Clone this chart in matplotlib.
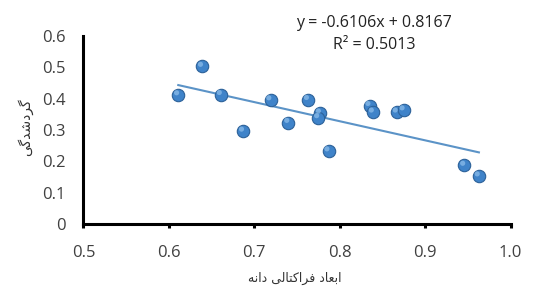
import numpy as np
import matplotlib
matplotlib.use("Agg")
import matplotlib.pyplot as plt

# data
fractal_dim = [0.611, 0.639, 0.661, 0.687, 0.719, 0.740, 0.763, 0.777,
               0.775, 0.787, 0.835, 0.839, 0.867, 0.875, 0.946, 0.963]
roundness = [0.412, 0.503, 0.413, 0.296, 0.396, 0.324, 0.397, 0.354,
             0.339, 0.233, 0.378, 0.357, 0.357, 0.364, 0.187, 0.153]
slope = -0.6106
intercept = 0.8167
r_squared = 0.5013

x_label = "ابعاد فراکتالی دانه"
y_label = "گردشدگی"

# simple Arabic/Persian shaping (matplotlib does no text shaping)
FORMS = {
    "ا": ("\uFE8D", "\uFE8E", None, None),
    "د": ("\uFEA9", "\uFEAA", None, None),
    "ر": ("\uFEAD", "\uFEAE", None, None),
    "ب": ("\uFE8F", "\uFE90", "\uFE91", "\uFE92"),
    "ع": ("\uFEC9", "\uFECA", "\uFECB", "\uFECC"),
    "ف": ("\uFED1", "\uFED2", "\uFED3", "\uFED4"),
    "ک": ("\uFB8E", "\uFB8F", "\uFB90", "\uFB91"),
    "ت": ("\uFE95", "\uFE96", "\uFE97", "\uFE98"),
    "ل": ("\uFEDD", "\uFEDE", "\uFEDF", "\uFEE0"),
    "ی": ("\uFBFC", "\uFBFD", "\uFBFE", "\uFBFF"),
    "ن": ("\uFEE5", "\uFEE6", "\uFEE7", "\uFEE8"),
    "ه": ("\uFEE9", "\uFEEA", "\uFEEB", "\uFEEC"),
    "گ": ("\uFB92", "\uFB93", "\uFB94", "\uFB95"),
    "ش": ("\uFEB5", "\uFEB6", "\uFEB7", "\uFEB8"),
}


def shape(text):
    out = []
    for i, ch in enumerate(text):
        if ch not in FORMS:
            out.append(ch)
            continue
        prev = text[i - 1] if i > 0 else " "
        nxt = text[i + 1] if i + 1 < len(text) else " "
        joins_prev = prev in FORMS and FORMS[prev][2] is not None
        joins_next = nxt in FORMS and FORMS[ch][2] is not None
        iso, fin, ini, med = FORMS[ch]
        if joins_prev and joins_next:
            out.append(med)
        elif joins_prev:
            out.append(fin)
        elif joins_next:
            out.append(ini)
        else:
            out.append(iso)
    return "".join(out)[::-1]


fig = plt.figure(figsize=(5.51, 2.89), dpi=100)
ax = fig.add_axes([0.1515, 0.225, 0.775, 0.65])

ax.scatter(fractal_dim, roundness, s=80, color="#3f83c9",
           edgecolors="#2c6199", linewidths=0.8, zorder=3)
ax.scatter(np.array(fractal_dim) - 0.002, np.array(roundness) + 0.007, s=14,
           color="#8fc0ec", edgecolors="none", alpha=0.7, zorder=4)

xs = np.array([min(fractal_dim), max(fractal_dim)])
ax.plot(xs, slope * xs + intercept, color="#5b93c7", lw=1.5, zorder=2)

ax.set_xlim(0.5, 1.0)
ax.set_ylim(0, 0.6)
ax.set_xticks([0.5, 0.6, 0.7, 0.8, 0.9, 1.0])
ax.set_xticklabels(["0.5", "0.6", "0.7", "0.8", "0.9", "1.0"])
ax.set_yticks([0, 0.1, 0.2, 0.3, 0.4, 0.5, 0.6])
ax.set_yticklabels(["0", "0.1", "0.2", "0.3", "0.4", "0.5", "0.6"])

for side in ["top", "right"]:
    ax.spines[side].set_visible(False)
for side in ["left", "bottom"]:
    ax.spines[side].set_linewidth(2.2)
    ax.spines[side].set_color("black")

ax.tick_params(axis="x", length=3, width=2.2, pad=12, labelsize=12,
               labelcolor="#404040")
ax.tick_params(axis="y", length=0, pad=13, labelsize=12, labelcolor="#404040")
for lab in ax.get_xticklabels() + ax.get_yticklabels():
    lab.set_family(["Open Sans", "DejaVu Sans"])

fig.text(0.679, 0.922, f"y = {slope}x + {intercept}", ha="center", va="center",
         fontsize=11.5, color="#222222", family=["Open Sans", "DejaVu Sans"])
fig.text(0.68, 0.843, f"R² = {r_squared}", ha="center", va="center",
         fontsize=11.5, color="#222222", family=["Open Sans", "DejaVu Sans"])

fig.text(0.535, 0.035, shape(x_label), ha="center", va="center",
         fontsize=9, color="#333333", family=["DejaVu Sans"])
fig.text(0.045, 0.56, shape(y_label), ha="center", va="center",
         rotation=90, fontsize=10, color="#333333", family=["DejaVu Sans"])

fig.savefig("out.png", dpi=100)
